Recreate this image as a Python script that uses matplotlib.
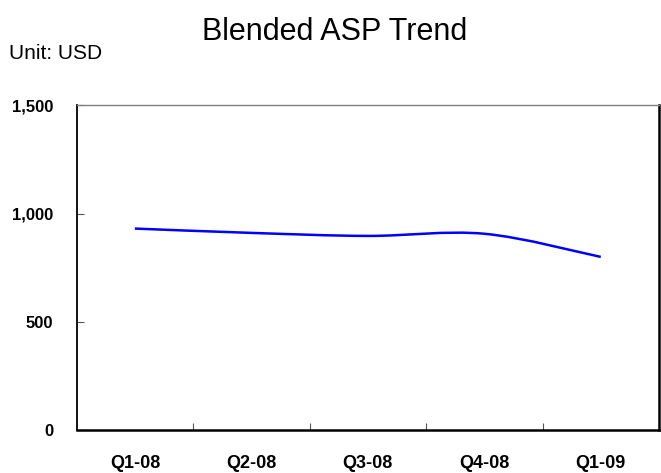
import matplotlib
matplotlib.use("Agg")
import matplotlib.pyplot as plt
from matplotlib.path import Path
from matplotlib.patches import PathPatch
from matplotlib.ticker import FuncFormatter

plt.rcParams["font.family"] = ["Liberation Sans", "DejaVu Sans"]

quarters = ["Q1-08", "Q2-08", "Q3-08", "Q4-08", "Q1-09"]
asp_usd = [931, 911, 897, 907, 800]


def smooth_path(xs, ys):
    """Catmull-Rom style smoothed line as cubic Bezier path (like Excel's smoothed line)."""
    pts = list(zip(xs, ys))
    n = len(pts)
    verts = [pts[0]]
    codes = [Path.MOVETO]
    for i in range(n - 1):
        p0 = pts[i - 1] if i > 0 else pts[i]
        p1 = pts[i]
        p2 = pts[i + 1]
        p3 = pts[i + 2] if i + 2 < n else pts[i + 1]
        c1 = (p1[0] + (p2[0] - p0[0]) / 6, p1[1] + (p2[1] - p0[1]) / 6)
        c2 = (p2[0] - (p3[0] - p1[0]) / 6, p2[1] - (p3[1] - p1[1]) / 6)
        verts += [c1, c2, p2]
        codes += [Path.CURVE4] * 3
    return Path(verts, codes)


fig = plt.figure(figsize=(6.61, 4.73), dpi=100)
ax = fig.add_axes([0.116, 0.091, 0.881, 0.686])

x = list(range(len(quarters)))
ax.add_patch(PathPatch(smooth_path(x, asp_usd), facecolor="none",
                       edgecolor="#0000FF", linewidth=1.8))

ax.set_xlim(-0.5, len(quarters) - 0.5)
ax.set_ylim(0, 1500)
ax.set_yticks([0, 500, 1000, 1500])
ax.yaxis.set_major_formatter(FuncFormatter(lambda v, p: f"{int(v):,}"))

# category boundaries as ticks, labels centred in between
ax.set_xticks([i + 0.5 for i in range(len(quarters) - 1)])
ax.set_xticklabels([])
ax.set_xticks(x, minor=True)
ax.set_xticklabels(quarters, minor=True)

ax.tick_params(axis="x", which="major", direction="in", length=5, width=0.8, color="#555555")
ax.tick_params(axis="x", which="minor", length=0, pad=18, labelsize=13)
ax.tick_params(axis="y", direction="in", length=5, width=0.8, color="#555555", pad=17, labelsize=12)
for lab in ax.get_xticklabels(minor=True) + ax.get_yticklabels():
    lab.set_fontweight("bold")

ax.spines["top"].set_color("#808080")
ax.spines["top"].set_linewidth(1.0)
ax.spines["left"].set_linewidth(1.3)
ax.spines["bottom"].set_linewidth(1.8)
ax.spines["right"].set_linewidth(1.8)

fig.text(0.506, 1 - 40 / 473, "Blended ASP Trend", ha="center", va="baseline", fontsize=22)
fig.text(9 / 661, 1 - 59 / 473, "Unit: USD", ha="left", va="baseline", fontsize=15)

fig.savefig("out.png", dpi=100)
